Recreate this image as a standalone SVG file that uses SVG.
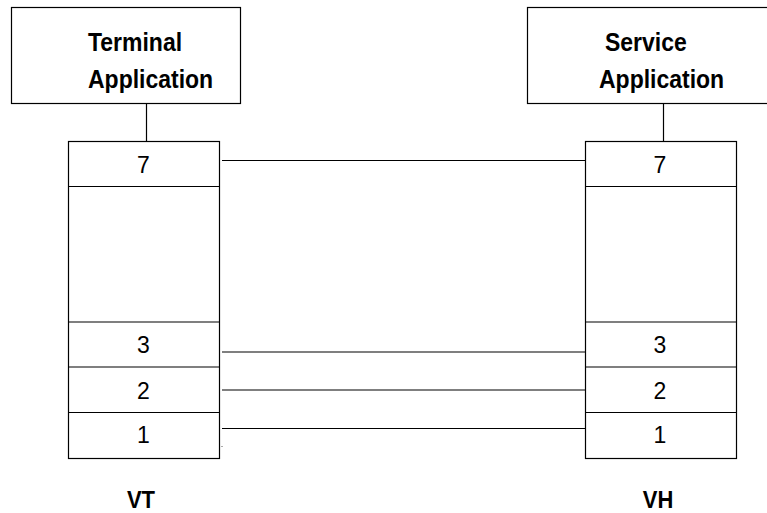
<svg xmlns="http://www.w3.org/2000/svg" width="767" height="513" viewBox="0 0 767 513">
<style>
.b{fill:#fff;stroke:#000;stroke-width:1.2}
.l{stroke:#000;stroke-width:1.2;fill:none}
.h{font-family:"Liberation Sans",Arial,sans-serif;font-weight:bold;font-size:23px;fill:#000}
.n{font-family:"Liberation Sans",Arial,sans-serif;font-size:23px;fill:#000;text-anchor:middle}
.f{font-family:"Liberation Sans",Arial,sans-serif;font-weight:bold;font-size:22px;fill:#000;text-anchor:middle}
</style>
<rect width="767" height="513" fill="#fff"/>
<g id="terminal-app">
<rect class="b" x="11.5" y="7.5" width="229" height="96"/>
<text class="h" transform="translate(88 51) scale(1 1.1)">Terminal</text>
<text class="h" transform="translate(88 88) scale(1 1.1)">Application</text>
</g>
<g id="service-app">
<rect class="b" x="527.5" y="7.5" width="260" height="96"/>
<text class="h" transform="translate(605 51) scale(1 1.1)">Service</text>
<text class="h" transform="translate(599 88) scale(1 1.1)">Application</text>
</g>
<g id="vt-stack">
<rect class="b" x="68.5" y="141.5" width="151" height="317"/>
<line class="l" x1="68" y1="186.5" x2="220" y2="186.5"/>
<line class="l" x1="68" y1="322" x2="220" y2="322"/>
<line class="l" x1="68" y1="367" x2="220" y2="367"/>
<line class="l" x1="68" y1="412.5" x2="220" y2="412.5"/>
<text class="n" transform="translate(143.5 172.5) scale(1 1.05)">7</text>
<text class="n" transform="translate(143.5 353) scale(1 1.05)">3</text>
<text class="n" transform="translate(143.5 399) scale(1 1.05)">2</text>
<text class="n" transform="translate(143.5 443) scale(1 1.05)">1</text>
</g>
<g id="vh-stack">
<rect class="b" x="585.5" y="141.5" width="151" height="317"/>
<line class="l" x1="585" y1="186.5" x2="737" y2="186.5"/>
<line class="l" x1="585" y1="322" x2="737" y2="322"/>
<line class="l" x1="585" y1="367" x2="737" y2="367"/>
<line class="l" x1="585" y1="412.5" x2="737" y2="412.5"/>
<text class="n" transform="translate(660 172.5) scale(1 1.05)">7</text>
<text class="n" transform="translate(660 353) scale(1 1.05)">3</text>
<text class="n" transform="translate(660 399) scale(1 1.05)">2</text>
<text class="n" transform="translate(660 443) scale(1 1.05)">1</text>
</g>
<g id="connectors">
<line class="l" x1="146.5" y1="103" x2="146.5" y2="141"/>
<line class="l" x1="663.5" y1="103" x2="663.5" y2="141"/>
<line class="l" x1="222" y1="160.5" x2="586" y2="160.5"/>
<line class="l" x1="222" y1="352" x2="585" y2="352"/>
<line class="l" x1="222" y1="390" x2="585" y2="390"/>
<line class="l" x1="222" y1="428.5" x2="585" y2="428.5"/>
<rect x="221.5" y="446" width="1" height="1" fill="#555"/>
</g>
<g id="labels">
<text class="f" transform="translate(141 508) scale(1 1.08)">VT</text>
<text class="f" transform="translate(658 508) scale(1 1.08)">VH</text>
</g>
</svg>
